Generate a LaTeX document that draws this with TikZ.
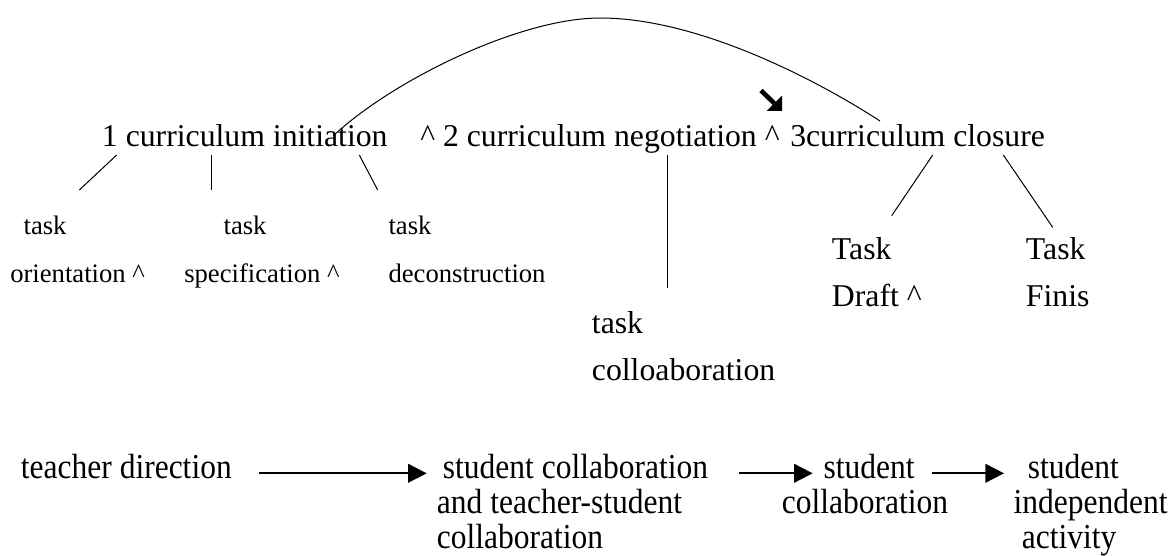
\documentclass[tikz,border=0pt]{standalone}
\usepackage{fontspec}
\setmainfont{Liberation Serif}
\newfontfamily\flowfont{Liberation Serif}[FakeStretch=0.9]
\usetikzlibrary{arrows.meta,calc}

\begin{document}
\begin{tikzpicture}[x=0.75pt,y=0.75pt,yscale=-1,xscale=1,
  stagelbl/.style={inner sep=0pt,anchor=base west,align=left,font=\fontsize{23.8}{35.25}\selectfont},
  sublbl/.style={inner sep=0pt,anchor=base west,align=left,font=\fontsize{20}{35.8}\selectfont},
  flowlbl/.style={inner sep=0pt,anchor=base west,align=left,font=\flowfont\fontsize{26.25}{26.25}\selectfont},
  branch/.style={line width=0.75},
  flowarrow/.style={line width=1.5,-{Triangle[length=14pt,width=14pt]}}]
\useasboundingbox (0,0) rectangle (1172,556);

% Text Node (base = last line)
\draw (101.7,146.7) node (init) [stagelbl] {1 curriculum initiation};
% Text Node
\draw (420,146.7) node (nego) [stagelbl] {\^{} 2 curriculum negotiation \^{}};
% Text Node
\draw (790,146.7) node (clos) [stagelbl] {3curriculum closure};

% Text Node
\draw (10,282.7) node (orient) [sublbl] {\hspace*{10pt}task\\orientation \^{}};
% Text Node
\draw (184,282.7) node (spec) [sublbl] {\hspace*{29.5pt}task\\specification \^{}};
% Text Node
\draw (388.3,282.7) node (decon) [sublbl] {task\\deconstruction};
% Text Node
\draw (591.7,380.3) node (collab) [stagelbl] {task\\colloaboration};
% Text Node
\draw (831.7,306.7) node (draft) [stagelbl] {Task\\Draft \^{}};
% Text Node
\draw (1025.7,306.7) node (finis) [stagelbl] {Task\\Finis};

% Text Node
\draw (20.7,478.3) node (tdir) [flowlbl] {teacher direction};
% Text Node
\draw (436.7,548.3) node (scol) [flowlbl] {\hspace*{4.5pt}student collaboration\\and teacher-student\\collaboration};
% Text Node
\draw (781.7,513.3) node (scol2) [flowlbl] {\hspace*{31.2pt}student\\collaboration};
% Text Node
\draw (1013.3,548.3) node (sind) [flowlbl] {\hspace*{10.8pt}student\\independent\\\hspace*{6.3pt}activity};

%Straight Lines
\draw [branch] ($(init.base west)+(15,8.3)$) -- ($(orient.base west)+(69.3,-92.7)$);
\draw [branch] ($(init.base west)+(110,8.3)$) -- ($(spec.base west)+(27.7,-92.7)$);
\draw [branch] ($(init.base west)+(257.6,8.3)$) -- ($(decon.base west)+(-10.6,-92.7)$);
\draw [branch] ($(nego.base west)+(247.3,8.3)$) -- ($(collab.base west)+(75.6,-92)$);
\draw [branch] ($(clos.base west)+(142.7,8.3)$) -- ($(draft.base west)+(60,-91)$);
\draw [branch] ($(clos.base west)+(213.3,8.3)$) -- ($(finis.base west)+(27,-79.4)$);

%Curve Lines
\draw [branch] ($(init.base west)+(231.3,-10.7)$) .. controls (393,80) and (520,18) .. (600,18)
  .. controls (700,18) and (820,82) .. ($(clos.base west)+(90,-25.7)$);
% small arrow mark
\draw [line width=3.5, line cap=butt] (761,90.5) -- (776,105);
\fill (782,95.5) -- (782,111) -- (766.5,111) -- cycle;

%Straight Lines
\draw [flowarrow] ($(tdir.base east)+(27,-5)$) -- ($(scol.base west)+(-10,-75)$);
\draw [flowarrow] ($(scol.base west)+(302.6,-75)$) -- ($(scol2.base west)+(31,-40)$);
\draw [flowarrow] ($(scol2.base west)+(150,-40)$) -- ($(sind.base west)+(-9.3,-75)$);

\end{tikzpicture}
\end{document}
